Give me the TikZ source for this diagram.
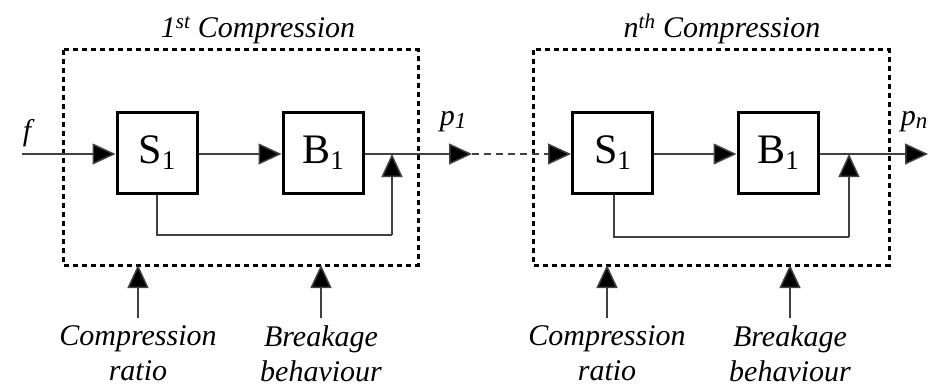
\documentclass[tikz,border=0pt]{standalone}
\usepackage{fontspec}
\setmainfont{Liberation Serif}
\usetikzlibrary{arrows.meta}
\tikzset{
  blockbox/.style={draw=black, line width=3pt, minimum width=80pt, minimum height=80pt, inner sep=0pt, font=\fontsize{42}{42}\selectfont},
  stagebox/.style={draw=black, line width=3pt, dash pattern=on 5pt off 4pt},
  conn/.style={draw=black!75, line width=1.5pt},
  arr/.style={conn, -{Triangle[length=23pt,width=21pt,fill=black]}},
  lbl/.style={font=\fontsize{30}{35}\selectfont\itshape, inner sep=0pt},
}
\newcommand{\blk}[2]{#1\raisebox{-6pt}{\fontsize{27}{27}\selectfont #2}}
\newcommand{\plab}[1]{\textit{p\raisebox{-3pt}{\fontsize{23}{23}\selectfont #1}}}
\begin{document}
\begin{tikzpicture}[x=1pt,y=-1pt]
\useasboundingbox (0,0) rectangle (937,385);
% stage frames
\draw[stagebox] (63,50) rectangle (418,265);
\draw[stagebox] (533,50) rectangle (889,265);
\coordinate (fr1b) at (138,265);
\coordinate (fr1c) at (321,265);
\coordinate (fr2b) at (607,265);
\coordinate (fr2c) at (790,265);
\coordinate (src1b) at (138,318);
\coordinate (src1c) at (321,318);
\coordinate (src2b) at (607,318);
\coordinate (src2c) at (790,318);
% titles
\node[lbl, anchor=base] (t1) at (258,38) {1\textsuperscript{st} Compression};
\node[lbl, anchor=base] (t2) at (722,38) {n\textsuperscript{th} Compression};
% blocks
\node[blockbox] (s1) at (157,153) {\blk{S}{1}};
\node[blockbox] (b1) at (323,153) {\blk{B}{1}};
\node[blockbox] (s2) at (612.5,153) {\blk{S}{1}};
\node[blockbox] (b2) at (778,153) {\blk{B}{1}};
% points on lines
\coordinate (in) at (22,154);
\coordinate (o1) at (472,154);
\coordinate (o2) at (928,154);
\coordinate (j1) at (392,154);
\coordinate (j2) at (849,154);
\coordinate (fb1) at (157,235);
\coordinate (fb1r) at (392,235);
\coordinate (fb2) at (614,237);
\coordinate (fb2r) at (849,237);
% labels
\node[lbl] (f) at (27,133) {f};
\node[lbl] (p1) at (453,122) {\plab{1}};
\node[lbl] (pn) at (914,122) {\plab{n}};
% main flow
\draw[arr] (in) -- (s1.west |- in);
\draw[arr] (s1.east |- in) -- (b1.west |- in);
\draw[arr] (b1.east |- in) -- (o1);
\draw[arr, dash pattern=on 7pt off 5pt] (o1) -- (s2.west |- in);
\draw[arr] (s2.east |- in) -- (b2.west |- in);
\draw[arr] (b2.east |- in) -- (o2);
% feedback
\draw[conn] (s1.south) -- (fb1) -- (fb1r);
\draw[arr] (fb1r) -- (j1);
\draw[conn] (s2.south -| fb2) -- (fb2) -- (fb2r);
\draw[arr] (fb2r) -- (j2);
% parameter inputs
\node[lbl, anchor=north, align=center] (cr1) at (138,325) {Compression\\ratio};
\node[lbl, anchor=north, align=center] (bb1) at (321,325) {Breakage\\behaviour};
\node[lbl, anchor=north, align=center] (cr2) at (607,325) {Compression\\ratio};
\node[lbl, anchor=north, align=center] (bb2) at (790,325) {Breakage\\behaviour};
\draw[arr] (src1b) -- (fr1b);
\draw[arr] (src1c) -- (fr1c);
\draw[arr] (src2b) -- (fr2b);
\draw[arr] (src2c) -- (fr2c);
\end{tikzpicture}
\end{document}
